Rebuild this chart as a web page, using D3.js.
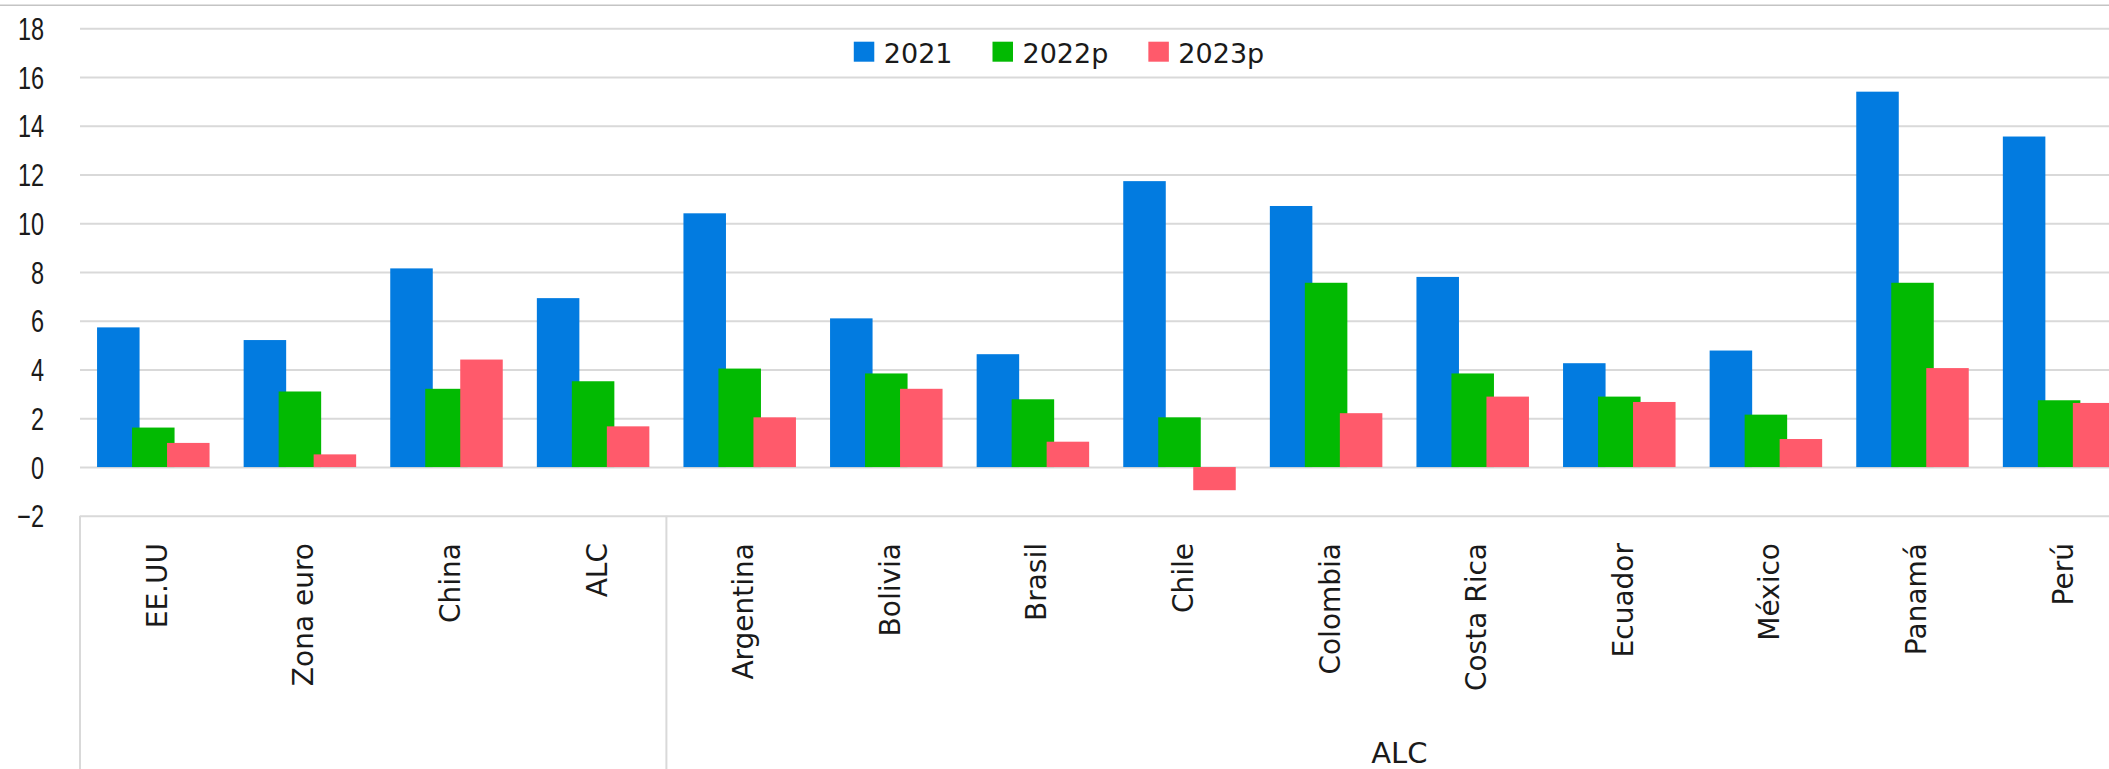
<!DOCTYPE html>
<html>
<head>
<meta charset="utf-8">
<script src="https://cdn.jsdelivr.net/npm/d3@7"></script>
<style>
  body { margin: 0; background: #fff; }
  svg { display: block; }
  .ytick text { font-family: "Liberation Sans", Arial, sans-serif; font-size: 30.5px; fill: #1a1a1a; }
  .cat text { font-family: "DejaVu Sans", sans-serif; font-size: 28px; fill: #1a1a1a; }
  .legend text { font-family: "DejaVu Sans", sans-serif; font-size: 27px; fill: #1a1a1a; }
  .group-label { font-family: "DejaVu Sans", sans-serif; font-size: 29px; fill: #1a1a1a; }
</style>
</head>
<body>
<svg id="chart" width="2109" height="769"></svg>
<script>
// data
const categories = ["EE.UU", "Zona euro", "China", "ALC", "Argentina", "Bolivia", "Brasil",
  "Chile", "Colombia", "Costa Rica", "Ecuador", "México", "Panamá", "Perú"];
const seriesNames = ["2021", "2022p", "2023p"];
const v2021 = [5.73, 5.21, 8.15, 6.93, 10.41, 6.10, 4.63, 11.73, 10.71, 7.80, 4.26, 4.78, 15.40, 13.56];
const v2022 = [1.62, 3.10, 3.21, 3.52, 4.04, 3.84, 2.78, 2.04, 7.56, 3.84, 2.89, 2.15, 7.56, 2.74];
const v2023 = [0.99, 0.52, 4.41, 1.67, 2.04, 3.21, 1.04, -0.95, 2.21, 2.89, 2.67, 1.15, 4.06, 2.63];
const yTicks = [-2, 0, 2, 4, 6, 8, 10, 12, 14, 16, 18];
// outer category level: label and index range
const groupLabels = ["", "ALC"];
const groupBreaks = [0, 4, 14];

const colors = ["#027be0", "#02ba02", "#ff5a6b"];
const seriesValues = [v2021, v2022, v2023];

const svg = d3.select("#chart");
const width = 2109;
const height = 769;
const margin = { left: 80, top: 28.3 };
const bandW = 146.6;
const plotRight = margin.left + bandW * categories.length; // runs past the picture edge

const x = d3.scaleBand()
  .domain(categories)
  .range([margin.left, plotRight])
  .padding(0);

const y = d3.scaleLinear()
  .domain([-2, 18])
  .range([515.8, margin.top]);

// chart border on top
svg.append("line")
  .attr("x1", 0).attr("x2", width)
  .attr("y1", 5.3).attr("y2", 5.3)
  .attr("stroke", "#c4c4c4")
  .attr("stroke-width", 1.5);

// y axis + gridlines
const yAxis = svg.append("g")
  .attr("class", "ytick")
  .attr("transform", `translate(${margin.left},0)`)
  .call(d3.axisLeft(y).tickValues(yTicks).tickSize(-(plotRight - margin.left)).tickPadding(0));
yAxis.select(".domain").remove();
yAxis.selectAll("line").attr("stroke", "#d9d9d9").attr("stroke-width", 2);
// narrow look of the tick numbers: squeeze them horizontally
yAxis.selectAll("text")
  .attr("x", 0)
  .attr("dy", "0.36em")
  .attr("transform", "translate(-36,0) scale(0.77,1)");

// bars: each series overlaps the one before (Excel overlap)
const step = bandW * 0.2387;
const barW = bandW * 0.29;

seriesValues.forEach((vals, i) => {
  svg.append("g")
    .selectAll("rect")
    .data(vals)
    .join("rect")
    .attr("x", (d, j) => x(categories[j]) + x.bandwidth() / 2 + (i - 1) * step - barW / 2)
    .attr("y", d => y(Math.max(0, d)))
    .attr("width", barW)
    .attr("height", d => Math.abs(y(d) - y(0)))
    .attr("fill", colors[i]);
});

// category axis labels
const xAxis = svg.append("g")
  .attr("class", "cat")
  .call(d3.axisBottom(x).tickSize(0));
xAxis.select(".domain").remove();
xAxis.selectAll(".tick")
  .attr("transform", d => `translate(${x(d) + x.bandwidth() / 2 + 13.5},543) rotate(-90)`);
xAxis.selectAll("text")
  .attr("x", 0).attr("y", 0).attr("dy", 0)
  .attr("text-anchor", "end");

// group divider lines
svg.append("g")
  .selectAll("line")
  .data(groupBreaks)
  .join("line")
  .attr("x1", d => d < categories.length ? x(categories[d]) : plotRight)
  .attr("x2", d => d < categories.length ? x(categories[d]) : plotRight)
  .attr("y1", y(-2))
  .attr("y2", height)
  .attr("stroke", "#d9d9d9")
  .attr("stroke-width", 2);

// outer group labels
svg.append("g")
  .selectAll("text")
  .data(groupLabels)
  .join("text")
  .attr("class", "group-label")
  .attr("x", (d, i) => {
    const a = x(categories[groupBreaks[i]]);
    const b = groupBreaks[i + 1] < categories.length ? x(categories[groupBreaks[i + 1]]) : plotRight;
    return (a + b) / 2;
  })
  .attr("y", 763)
  .attr("text-anchor", "middle")
  .text(d => d);

// legend
const legend = svg.append("g").attr("class", "legend");
const items = legend.selectAll("g")
  .data(seriesNames)
  .join("g");
items.append("rect")
  .attr("width", 20.5)
  .attr("height", 20)
  .attr("y", 41.7)
  .attr("fill", (d, i) => colors[i]);
items.append("text")
  .attr("x", 30)
  .attr("y", 62.5)
  .text(d => d);

let cursor = 0;
items.each(function () {
  const g = d3.select(this);
  g.attr("transform", `translate(${cursor},0)`);
  cursor += 30 + g.select("text").node().getComputedTextLength() + 40;
});
const legendW = cursor - 40;
legend.attr("transform", `translate(${1059 - legendW / 2},0)`);
</script>
</body>
</html>
